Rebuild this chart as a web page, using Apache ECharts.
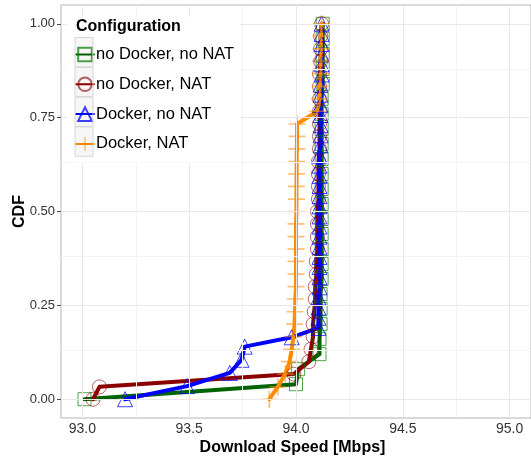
<!DOCTYPE html>
<html>
<head>
<meta charset="utf-8">
<script src="https://cdn.jsdelivr.net/npm/echarts@6/dist/echarts.min.js"></script>
<style>
  html, body { margin: 0; padding: 0; background: #fff; }
  #chart { width: 531px; height: 456px; }
</style>
</head>
<body>
<div id="chart"></div>
<script>
// series names (legend order)
const seriesNames = ['no Docker, no NAT', 'no Docker, NAT', 'Docker, no NAT', 'Docker, NAT'];

// no Docker, no NAT
const greenX = [93.01, 94.00, 94.01, 94.11, 94.11, 94.115, 94.115, 94.115, 94.12, 94.12, 94.12, 94.12, 94.12,
  94.12, 94.12, 94.12, 94.12, 94.12, 94.12, 94.12, 94.12, 94.125, 94.125, 94.125, 94.125, 94.125];
const greenY = [0, 0.04, 0.08, 0.12, 0.16, 0.20, 0.24, 0.28, 0.32, 0.36, 0.40, 0.44, 0.48,
  0.52, 0.56, 0.60, 0.64, 0.68, 0.72, 0.76, 0.80, 0.84, 0.88, 0.92, 0.96, 1.00];

// no Docker, NAT
const redX = [93.05, 93.08, 93.99, 94.06, 94.07, 94.08, 94.08, 94.085, 94.09, 94.09, 94.095, 94.095, 94.10,
  94.10, 94.10, 94.10, 94.105, 94.105, 94.105, 94.105, 94.11, 94.11, 94.11, 94.11, 94.11, 94.11, 94.11,
  94.115, 94.115, 94.115, 94.12];
const redY = [0, 0.033, 0.067, 0.100, 0.133, 0.167, 0.200, 0.233, 0.267, 0.300, 0.333, 0.367, 0.400,
  0.433, 0.467, 0.500, 0.533, 0.567, 0.600, 0.633, 0.667, 0.700, 0.733, 0.767, 0.800, 0.833, 0.867,
  0.900, 0.933, 0.967, 1.000];

// Docker, no NAT
const blueX = [93.20, 93.49, 93.69, 93.745, 93.76, 93.98, 94.105, 94.105, 94.105, 94.105, 94.11, 94.11, 94.11,
  94.11, 94.11, 94.11, 94.11, 94.11, 94.11, 94.11, 94.11, 94.11, 94.11, 94.11, 94.115, 94.115, 94.115,
  94.115, 94.115, 94.115, 94.115, 94.12, 94.12, 94.12, 94.12, 94.12, 94.12];
const blueY = [0, 0.035, 0.070, 0.105, 0.140, 0.165, 0.190, 0.217, 0.244, 0.271, 0.298, 0.325, 0.352,
  0.379, 0.406, 0.433, 0.460, 0.487, 0.514, 0.541, 0.568, 0.595, 0.622, 0.649, 0.676, 0.703, 0.730,
  0.757, 0.784, 0.811, 0.838, 0.865, 0.892, 0.919, 0.946, 0.973, 1.000];

// Docker, NAT
const orangeX = [93.875, 93.915, 93.95, 93.97, 93.98, 93.988, 93.993, 93.995, 93.997, 94.0, 94.0, 94.0, 94.0,
  94.0, 94.0, 94.002, 94.002, 94.002, 94.003, 94.003, 94.004, 94.005, 94.005, 94.10, 94.11, 94.112,
  94.115, 94.115, 94.117, 94.117, 94.12];
const orangeY = [0, 0.033, 0.067, 0.100, 0.133, 0.167, 0.200, 0.233, 0.267, 0.300, 0.333, 0.367, 0.400,
  0.433, 0.467, 0.500, 0.533, 0.567, 0.600, 0.633, 0.667, 0.700, 0.733, 0.767, 0.800, 0.833,
  0.867, 0.900, 0.933, 0.967, 1.000];

// axis ticks
const xTicks = [93.0, 93.5, 94.0, 94.5, 95.0];
const xMinor = [93.25, 93.75, 94.25, 94.75];
const yTicks = [0, 0.25, 0.5, 0.75, 1.0];
const yMinor = [0.125, 0.375, 0.625, 0.875];

const pair = (xs, ys) => xs.map((x, i) => [x, ys[i]]);

var myChart = echarts.init(document.getElementById('chart'), null, { renderer: 'canvas' });

const plusPath = 'path://M0,9h20v2h-20z M9,0h2v20h-2z';

function makeSeries(name, data, color, markColor, symbol, size, filled) {
  return {
    name: name,
    type: 'line',
    data: data,
    symbol: symbol,
    symbolSize: size,
    showSymbol: true,
    showAllSymbol: true,
    lineStyle: { color: color, width: 4, join: 'round', cap: 'round' },
    itemStyle: filled
      ? { color: markColor, borderWidth: 0 }
      : { color: 'rgba(0,0,0,0)', borderColor: markColor, borderWidth: 1 },
    emphasis: { disabled: true },
    z: 3
  };
}

// grid lines as markLine of an empty series
const gridLines = [].concat(
  xMinor.map(v => ({ xAxis: v, lineStyle: { color: '#f3f3f3', width: 1, type: 'solid' } })),
  yMinor.map(v => ({ yAxis: v, lineStyle: { color: '#f3f3f3', width: 1, type: 'solid' } })),
  xTicks.map(v => ({ xAxis: v, lineStyle: { color: '#e8e8e8', width: 1, type: 'solid' } })),
  yTicks.map(v => ({ yAxis: v, lineStyle: { color: '#e8e8e8', width: 1, type: 'solid' } }))
);

// legend key boxes (light tint drawn over the legend icons)
const keyBox = y => ({
  type: 'rect', z: 20,
  shape: { x: 75, y: y, width: 18, height: 29.5 },
  style: { fill: 'rgba(0,0,0,0.035)', stroke: '#d6d6d6', lineWidth: 1 }
});

var option = {
  animation: false,
  backgroundColor: '#fff',
  title: {
    text: 'Configuration',
    left: 76,
    top: 19,
    padding: 0,
    textStyle: { fontFamily: 'Liberation Sans', fontSize: 16, fontWeight: 'bold', color: '#000' },
    z: 15
  },
  legend: {
    data: seriesNames,
    orient: 'vertical',
    left: 67,
    top: 17,
    padding: [29, 6, 10, 8],
    backgroundColor: '#fff',
    itemWidth: 18,
    itemHeight: 17,
    itemGap: 12.8,
    selectedMode: false,
    textStyle: { fontFamily: 'Liberation Sans', fontSize: 16.5, color: '#000', padding: [0, 0, 0, -3] },
    z: 10
  },
  graphic: {
    elements: [keyBox(37.5), keyBox(67.2), keyBox(97), keyBox(126.8)]
  },
  grid: {
    left: 61, top: 5, width: 470, height: 413,
    outerBoundsMode: 'none',
    containLabel: false,
    show: true, borderColor: '#b3b3b3', borderWidth: 1, backgroundColor: 'transparent'
  },
  xAxis: {
    type: 'value',
    min: 92.9, max: 95.1,
    name: 'Download Speed [Mbps]',
    nameLocation: 'middle',
    nameGap: 22,
    nameMoveOverlap: false,
    nameTextStyle: { fontFamily: 'Liberation Sans', fontSize: 16, fontWeight: 'bold', color: '#000', padding: [0, 7, 0, 0] },
    axisLine: { show: false },
    axisTick: { show: true, length: 4, customValues: xTicks, lineStyle: { color: '#4d4d4d' } },
    axisLabel: {
      customValues: xTicks, margin: 4,
      fontFamily: 'Liberation Sans', fontSize: 14, color: '#333',
      formatter: v => v.toFixed(1)
    },
    splitLine: { show: false }
  },
  yAxis: {
    type: 'value',
    min: -0.05, max: 1.05,
    name: 'CDF',
    nameLocation: 'middle',
    nameGap: 33,
    nameMoveOverlap: false,
    nameTextStyle: { fontFamily: 'Liberation Sans', fontSize: 16, fontWeight: 'bold', color: '#000' },
    axisLine: { show: false },
    axisTick: { show: true, length: 4, customValues: yTicks, lineStyle: { color: '#4d4d4d' } },
    axisLabel: {
      customValues: yTicks, margin: 6,
      fontFamily: 'Liberation Sans', fontSize: 13, color: '#333',
      formatter: v => v.toFixed(2)
    },
    splitLine: { show: false }
  },
  series: [
    {
      name: 'grid',
      type: 'line',
      data: [],
      silent: true,
      z: 0,
      markLine: {
        silent: true,
        symbol: ['none', 'none'],
        label: { show: false },
        animation: false,
        data: gridLines
      }
    },
    makeSeries(seriesNames[0], pair(greenX, greenY), '#006400', 'rgba(0,128,0,0.7)', 'rect', 13, false),
    makeSeries(seriesNames[1], pair(redX, redY), '#8b0000', 'rgba(139,0,0,0.6)', 'circle', 14, false),
    makeSeries(seriesNames[2], pair(blueX, blueY), '#0000ff', 'rgba(0,0,255,0.75)', 'triangle', 15, false),
    makeSeries(seriesNames[3], pair(orangeX, orangeY), '#ff8c00', 'rgba(255,140,0,0.55)', plusPath, 17, true)
  ]
};
myChart.setOption(option);
</script>
</body>
</html>
